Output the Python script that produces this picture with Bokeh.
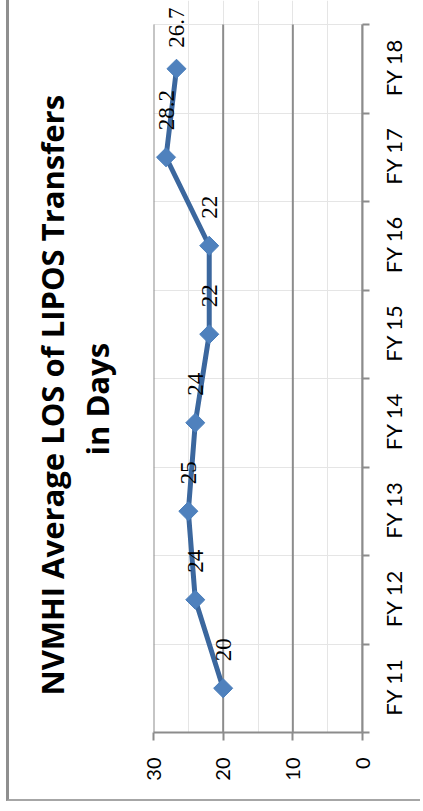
from math import pi
from bokeh.plotting import figure
from bokeh.models import (Range1d, LinearAxis, FixedTicker, Title, ColumnDataSource,
                          LabelSet)
from bokeh.embed import file_html
from bokeh.resources import INLINE

# ---- data ----
categories = ["FY 11", "FY 12", "FY 13", "FY 14", "FY 15", "FY 16", "FY 17", "FY 18"]
values = [20, 24, 25, 24, 22, 22, 28.2, 26.7]
value_ticks = [0, 10, 20, 30]
title_line1 = "NVMHI Average LOS of LIPOS Transfers"
title_line2 = "in Days"

# ---- style ----
FONT = "Lato"
TITLE_FONT = "Open Sans"
GRAY = "#8c8c8c"
label_offsets = [27, 27, 27, 27, 27, 27, 27, 21]   # screen px above each point
PLOT_H = 708        # px occupied by the categories
TOP_PAD = 24        # px of free frame above the last category (room for labels)
CAT_LABEL_LEN = 55  # approx. rendered length (px) of a category label

n = len(categories)
cat_px = PLOT_H / n
pos = [i + 0.5 for i in range(n)]
boundaries = list(range(n + 1))
# rotated right-axis labels start at their tick, so shift the (invisible) tick
label_ticks = [pp - CAT_LABEL_LEN / 2 / cat_px for pp in pos]
labels = [f"{v:g}" for v in values]
src = ColumnDataSource(dict(v=values, pos=pos, lab=labels, off=label_offsets))

p = figure(width=414, height=801, output_backend="svg", toolbar_location=None,
           x_range=Range1d(max(value_ticks), min(value_ticks)),
           y_range=Range1d(0, n * (PLOT_H + TOP_PAD) / PLOT_H),
           x_axis_location=None, y_axis_location=None,
           min_border_left=144, min_border_right=57,
           min_border_top=0, min_border_bottom=69)
p.outline_line_color = None
p.background_fill_color = "white"
p.border_fill_color = "white"
p.styles = {"margin-left": "6px",
            "border-left": "3px solid #8f8f8f",
            "border-bottom": "2px solid #a6a6a6"}

# gridlines, limited to the category area
p.segment(x0=value_ticks, y0=[0] * len(value_ticks), x1=value_ticks,
          y1=[n] * len(value_ticks), line_color=GRAY, line_width=2)

# value axis (appears at bottom after rotation)
xaxis = LinearAxis(ticker=FixedTicker(ticks=value_ticks))
xaxis.axis_line_color = GRAY
xaxis.axis_line_width = 2
xaxis.major_tick_line_color = GRAY
xaxis.major_tick_line_width = 2
xaxis.major_tick_out = 8
xaxis.major_tick_in = 0
xaxis.minor_tick_line_color = None
xaxis.major_label_orientation = pi / 2
xaxis.major_label_text_font = FONT
xaxis.major_label_text_font_size = "20px"
xaxis.major_label_text_color = "black"
xaxis.major_label_standoff = 17
p.add_layout(xaxis, "below")

# category axis (appears at right after rotation)
yaxis = LinearAxis(ticker=FixedTicker(ticks=label_ticks, minor_ticks=boundaries),
                   bounds=(0, n),
                   major_label_overrides={t: c for t, c in zip(label_ticks, categories)})
yaxis.axis_line_color = GRAY
yaxis.axis_line_width = 2
yaxis.major_tick_line_color = None
yaxis.major_tick_out = 7
yaxis.major_tick_in = 0
yaxis.minor_tick_line_color = GRAY
yaxis.minor_tick_line_width = 2
yaxis.minor_tick_out = 7
yaxis.minor_tick_in = 0
yaxis.major_label_orientation = pi / 2
yaxis.major_label_text_font = FONT
yaxis.major_label_text_font_size = "22px"
yaxis.major_label_text_color = "black"
yaxis.major_label_standoff = 24
p.add_layout(yaxis, "right")

# titles (rotated, on the left); a blank spacer keeps them off the frame
spacer = Title(text=" ", text_font_size="1px", standoff=32)
t2 = Title(text=title_line2, align="left", offset=277, standoff=1,
           text_font=TITLE_FONT, text_font_size="31px", text_font_style="bold",
           text_color="black")
t1 = Title(text=title_line1, align="left", offset=37, standoff=1,
           text_font=TITLE_FONT, text_font_size="31px", text_font_style="bold",
           text_color="black")
p.add_layout(spacer, "left")
p.add_layout(t2, "left")
p.add_layout(t1, "left")

# series
p.line(x="v", y="pos", source=src, line_color="#3b679e", line_width=5,
       line_join="round")
p.scatter(x="v", y="pos", source=src, marker="square", size=13.5, angle=pi / 4,
          fill_color="#4f81bd", line_color="#4a7ebb", line_width=1)

p.add_layout(LabelSet(x="v", y="pos", text="lab", source=src, angle=pi / 2,
                      text_align="left", text_baseline="middle", y_offset="off",
                      text_font=FONT, text_font_size="23px", text_color="black"))

open("out.html", "w").write(file_html(p, INLINE))
